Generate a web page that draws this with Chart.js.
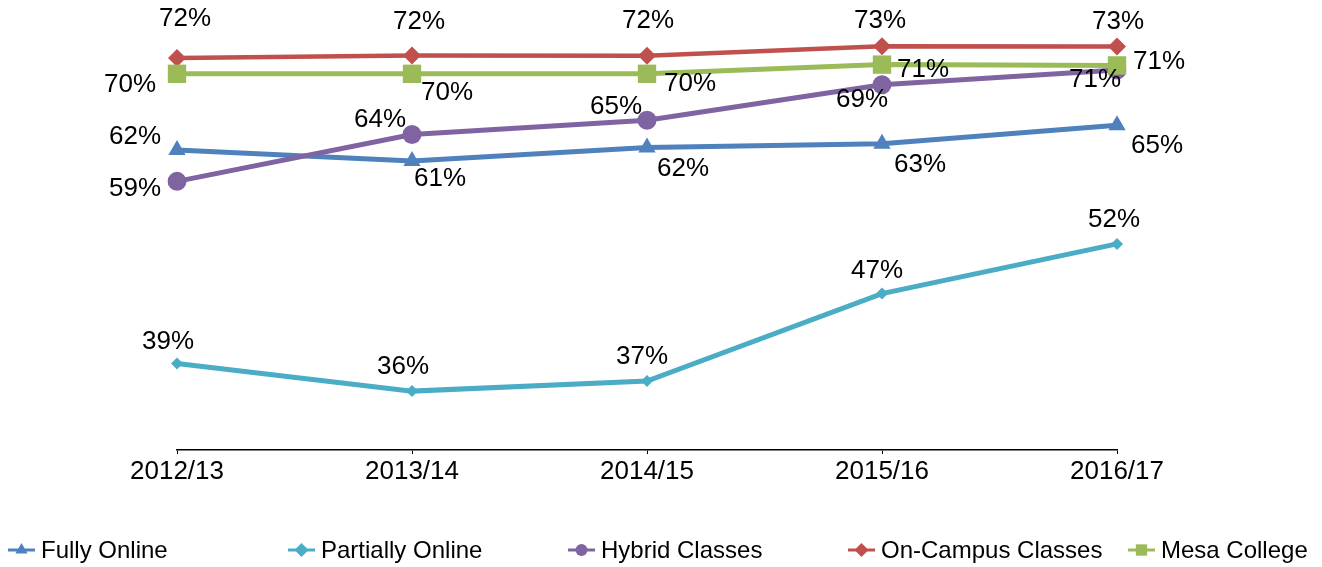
<!DOCTYPE html>
<html>
<head>
<meta charset="utf-8">
<script src="https://cdn.jsdelivr.net/npm/chart.js@4/dist/chart.umd.min.js"></script>
<style>
  body { margin: 0; background: #fff; }
  canvas { display: block; }
</style>
</head>
<body>
<canvas id="LineChart" width="1322" height="567"></canvas>
<script>
var years = ['2012/13', '2013/14', '2014/15', '2015/16', '2016/17'];
var seriesNames = ['Fully Online', 'Partially Online', 'Hybrid Classes', 'On-Campus Classes', 'Mesa College'];
var fullyOnline = [62.2, 61.0, 62.49, 62.9, 64.9];
var partiallyOnline = [39.0, 36.0, 37.1, 46.6, 52.0];
var hybridClasses = [58.8, 63.9, 65.45, 69.3, 70.9];
var onCampusClasses = [72.2, 72.49, 72.45, 73.49, 73.45];
var mesaCollege = [70.49, 70.49, 70.49, 71.49, 71.4];

var colors = ['#4F81BD', '#4BACC6', '#8064A2', '#C0504D', '#9BBB59'];
var markers = ['triangle', 'rectRot', 'circle', 'rectRot', 'rect'];
var FONT = '"Liberation Sans", Arial, sans-serif';

// where each value label sits relative to its point (dx, dy)
var labelOffsets = [
    [[-42, -13], [28, 18], [36, 21], [38, 21], [40, 21]],
    [[-9, -22], [-9, -24], [-5, -24], [-5, -23], [-3, -24]],
    [[-42, 7], [-32, -15], [-31, -13], [-20, 15], [-22, 10]],
    [[8, -39], [7, -34], [1, -35], [-2, -25], [1, -25]],
    [[-47, 11], [35, 19], [43, 10], [41, 5], [42, -4]]
];

function drawMarker(ctx, style, x, y, r, color) {
    ctx.save();
    ctx.fillStyle = color;
    ctx.beginPath();
    if (style == 'circle') {
        ctx.arc(x, y, r, 0, Math.PI * 2);
    } else if (style == 'rect') {
        ctx.rect(x - r * 0.707, y - r * 0.707, r * 1.414, r * 1.414);
    } else if (style == 'rectRot') {
        ctx.moveTo(x, y - r); ctx.lineTo(x + r, y); ctx.lineTo(x, y + r); ctx.lineTo(x - r, y);
    } else {
        ctx.moveTo(x, y - r); ctx.lineTo(x + r * 0.866, y + r * 0.5); ctx.lineTo(x - r * 0.866, y + r * 0.5);
    }
    ctx.closePath();
    ctx.fill();
    ctx.restore();
}

var valueLabels = {
    id: 'valueLabels',
    afterDatasetsDraw: function (chart) {
        var ctx = chart.ctx;
        ctx.save();
        ctx.font = '26px ' + FONT;
        ctx.fillStyle = '#000';
        ctx.textAlign = 'center';
        ctx.textBaseline = 'middle';
        chart.data.datasets.forEach(function (ds, i) {
            var meta = chart.getDatasetMeta(i);
            meta.data.forEach(function (pt, j) {
                var off = labelOffsets[i][j];
                ctx.fillText(Math.round(ds.data[j]) + '%', pt.x + off[0], pt.y + off[1]);
            });
        });
        ctx.restore();
    }
};

var lineLegend = {
    id: 'lineLegend',
    afterDraw: function (chart) {
        var ctx = chart.ctx;
        var y = 550;
        ctx.save();
        ctx.font = '24px ' + FONT;
        ctx.fillStyle = '#000';
        ctx.textBaseline = 'middle';
        chart.data.datasets.forEach(function (ds, i) {
            var x0 = 8 + i * 280;
            ctx.strokeStyle = ds.borderColor;
            ctx.lineWidth = 3;
            ctx.beginPath();
            ctx.moveTo(x0, y);
            ctx.lineTo(x0 + 27, y);
            ctx.stroke();
            var r = markers[i] == 'rect' ? 8 : (markers[i] == 'circle' ? 6 : 7);
            drawMarker(ctx, markers[i], x0 + 13.5, y, r, ds.borderColor);
            ctx.fillStyle = '#000';
            ctx.fillText(ds.label, x0 + 33, y + 1);
        });
        ctx.restore();
    }
};

var allSeries = [fullyOnline, partiallyOnline, hybridClasses, onCampusClasses, mesaCollege];
var pointSizes = [10, 6, 9.5, 9, 13];
var lineWidths = [5, 5, 5, 4.5, 5];

var ctxline = document.getElementById('LineChart');
var LineChart = new Chart(ctxline, {
    type: 'line',
    data: {
        labels: years,
        datasets: allSeries.map(function (vals, i) {
            return {
                label: seriesNames[i],
                data: vals,
                borderColor: colors[i],
                backgroundColor: colors[i],
                borderWidth: lineWidths[i],
                pointStyle: markers[i],
                pointRadius: pointSizes[i],
                pointHoverRadius: pointSizes[i],
                pointBorderWidth: 0,
                tension: 0,
                order: 4 - i
            };
        })
    },
    options: {
        responsive: false,
        animation: false,
        devicePixelRatio: 1,
        layout: { padding: { top: 2, left: 177, right: 205, bottom: 0 } },
        plugins: {
            legend: { display: false },
            tooltip: { enabled: false }
        },
        scales: {
            x: {
                offset: false,
                grid: { drawOnChartArea: false, drawTicks: true, tickLength: 4, color: '#000', lineWidth: 1 },
                border: { color: '#000', width: 1.5 },
                ticks: { color: '#000', font: { family: FONT, size: 26 }, padding: 2, maxRotation: 0 },
                afterFit: function (axis) { axis.height = 117; }
            },
            y: {
                display: false,
                min: 29.6,
                max: 77.1
            }
        }
    },
    plugins: [valueLabels, lineLegend]
});
</script>
</body>
</html>
